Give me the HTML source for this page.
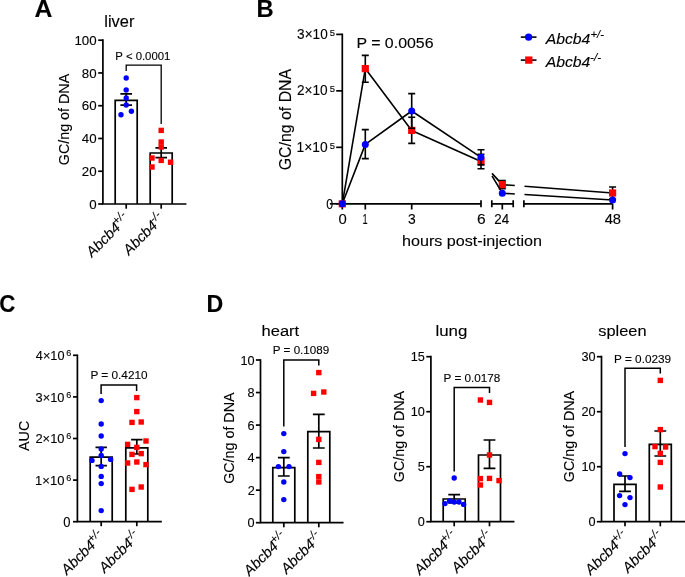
<!DOCTYPE html>
<html><head><meta charset="utf-8"><style>
html,body{margin:0;padding:0;background:#fff;}
body{width:685px;height:577px;overflow:hidden;}
svg{display:block;will-change:transform;}
text{font-family:"Liberation Sans",sans-serif;fill:#000;stroke:#000;stroke-width:0.12px;}
</style></head><body>
<svg width="685" height="577" viewBox="0 0 685 577" stroke="#000" stroke-linecap="butt">
<text transform="translate(34.48,16.9) scale(1.0323,1)" font-size="24.0" font-weight="bold">A</text>
<text transform="translate(104.29,27.4) scale(1.0513,1)" font-size="15.6">liver</text>
<path d="M102.9,40.2V204.0H185.6" stroke-width="1.7" fill="none" stroke-linecap="square"/>
<line x1="98.2" y1="204" x2="102.9" y2="204" stroke-width="1.7"/>
<line x1="98.2" y1="171.24" x2="102.9" y2="171.24" stroke-width="1.7"/>
<line x1="98.2" y1="138.48" x2="102.9" y2="138.48" stroke-width="1.7"/>
<line x1="98.2" y1="105.72" x2="102.9" y2="105.72" stroke-width="1.7"/>
<line x1="98.2" y1="72.96" x2="102.9" y2="72.96" stroke-width="1.7"/>
<line x1="98.2" y1="40.2" x2="102.9" y2="40.2" stroke-width="1.7"/>
<text transform="translate(74.42,44.9) scale(1.0000,1)" font-size="13.3">100</text>
<text transform="translate(81.84,77.66) scale(1.0000,1)" font-size="13.3">80</text>
<text transform="translate(81.84,110.42) scale(1.0000,1)" font-size="13.3">60</text>
<text transform="translate(81.84,143.18) scale(1.0000,1)" font-size="13.3">40</text>
<text transform="translate(81.84,175.94) scale(1.0000,1)" font-size="13.3">20</text>
<text transform="translate(89.22,208.7) scale(1.0000,1)" font-size="13.3">0</text>
<line x1="126.2" y1="204" x2="126.2" y2="208.7" stroke-width="1.7"/>
<line x1="161.2" y1="204" x2="161.2" y2="208.7" stroke-width="1.7"/>
<text transform="translate(69.2,165.22) rotate(-90) scale(1.0015,1)" font-size="14.3">GC/ng of DNA</text>
<path d="M115.2,204V100.4H137.2V204" stroke-width="1.7" fill="none"/>
<path d="M150.2,204V153H172.2V204" stroke-width="1.7" fill="none"/>
<path d="M126.2,93.8V105.2M120.4,93.8H132M120.4,105.2H132" stroke-width="1.7" fill="none"/>
<path d="M161.2,147.8V157.6M155.4,147.8H167M155.4,157.6H167" stroke-width="1.7" fill="none"/>
<circle cx="126.2" cy="78" r="2.7" fill="#0000ff" stroke="none"/>
<circle cx="126.2" cy="90" r="2.7" fill="#0000ff" stroke="none"/>
<circle cx="126.2" cy="98" r="2.7" fill="#0000ff" stroke="none"/>
<circle cx="126.2" cy="105" r="2.7" fill="#0000ff" stroke="none"/>
<circle cx="131.4" cy="111.2" r="2.7" fill="#0000ff" stroke="none"/>
<circle cx="121" cy="114.8" r="2.7" fill="#0000ff" stroke="none"/>
<rect x="158.5" y="127.7" width="5.4" height="5.4" fill="#ff0000" stroke="none"/>
<rect x="158.5" y="139.3" width="5.4" height="5.4" fill="#ff0000" stroke="none"/>
<rect x="158.5" y="144.3" width="5.4" height="5.4" fill="#ff0000" stroke="none"/>
<rect x="149.3" y="155.3" width="5.4" height="5.4" fill="#ff0000" stroke="none"/>
<rect x="158.5" y="157.7" width="5.4" height="5.4" fill="#ff0000" stroke="none"/>
<rect x="167.9" y="159.5" width="5.4" height="5.4" fill="#ff0000" stroke="none"/>
<rect x="149.3" y="164.3" width="5.4" height="5.4" fill="#ff0000" stroke="none"/>
<path d="M126.2,71V65.2H161.2V124" stroke-width="1.3" fill="none"/>
<text transform="translate(115.36,60.2) scale(1.0150,1)" font-size="11.2">P &lt; 0.0001</text>
<text transform="translate(256.5,16.9) scale(0.9904,1)" font-size="24.0" font-weight="bold">B</text>
<path d="M342.3,34.39V203.8" stroke-width="1.7" fill="none" stroke-linecap="square"/>
<line x1="336.2" y1="203.8" x2="342.3" y2="203.8" stroke-width="1.7"/>
<line x1="336.2" y1="147.33" x2="342.3" y2="147.33" stroke-width="1.7"/>
<line x1="336.2" y1="90.86" x2="342.3" y2="90.86" stroke-width="1.7"/>
<line x1="336.2" y1="34.39" x2="342.3" y2="34.39" stroke-width="1.7"/>
<text transform="translate(296.56,151.93) scale(0.9040,1)" font-size="15.3">1×10</text>
<text transform="translate(329.72,148.53) scale(1.0078,1)" font-size="9.4">5</text>
<text transform="translate(296.92,95.46) scale(0.8936,1)" font-size="15.3">2×10</text>
<text transform="translate(329.72,92.06) scale(1.0078,1)" font-size="9.4">5</text>
<text transform="translate(297.09,38.99) scale(0.8885,1)" font-size="15.3">3×10</text>
<text transform="translate(329.72,35.59) scale(1.0078,1)" font-size="9.4">5</text>
<text transform="translate(326.31,208.8) scale(0.8076,1)" font-size="15.3">0</text>
<line x1="329.9" y1="203.8" x2="342.3" y2="203.8" stroke-width="1.7"/>
<path d="M342.3,203.8H481.0M481.0,200.2V207.2M491.8,200.2V207.2M491.8,203.8H513.2M513.2,200.2V207.2M523.9,200.2V207.2M523.9,203.8H612.6" stroke-width="1.7" fill="none"/>
<line x1="342.3" y1="203.8" x2="342.3" y2="209.5" stroke-width="1.7"/>
<line x1="365.3" y1="203.8" x2="365.3" y2="209.5" stroke-width="1.7"/>
<line x1="411.7" y1="203.8" x2="411.7" y2="209.5" stroke-width="1.7"/>
<line x1="502.3" y1="203.8" x2="502.3" y2="209.5" stroke-width="1.7"/>
<line x1="612.6" y1="203.8" x2="612.6" y2="209.5" stroke-width="1.7"/>
<text transform="translate(338.41,223.6) scale(0.9655,1)" font-size="15.4">0</text>
<text transform="translate(362.61,223.6) scale(0.6006,1)" font-size="15.4">1</text>
<text transform="translate(408.08,223.6) scale(0.9023,1)" font-size="15.4">3</text>
<text transform="translate(477.12,223.6) scale(1.0109,1)" font-size="15.4">6</text>
<text transform="translate(494.33,223.6) scale(0.8679,1)" font-size="15.4">24</text>
<text transform="translate(604.67,223.6) scale(0.9569,1)" font-size="15.4">48</text>
<text transform="translate(401.97,245.7) scale(1.0764,1)" font-size="15.0">hours post-injection</text>
<text transform="translate(290.9,170.29) rotate(-90) scale(1.0182,1)" font-size="15.6">GC/ng of DNA</text>
<text transform="translate(356.39,48) scale(1.0988,1)" font-size="14.5">P = 0.0056</text>
<path d="M365.3,55.4V82.2M361.8,55.4H368.8M361.8,82.2H368.8" stroke-width="1.6" fill="none"/>
<path d="M411.7,117.2V143.4M408.2,117.2H415.2M408.2,143.4H415.2" stroke-width="1.6" fill="none"/>
<path d="M481,154.2V168.8M477.5,154.2H484.5M477.5,168.8H484.5" stroke-width="1.6" fill="none"/>
<path d="M502.3,180.6V188.6M498.8,180.6H505.8M498.8,188.6H505.8" stroke-width="1.6" fill="none"/>
<path d="M612.6,187V199M609.1,187H616.1M609.1,199H616.1" stroke-width="1.6" fill="none"/>
<path d="M342.3,203.8L365.3,68.6L411.7,130.4L481,161.5" stroke-width="1.6" fill="none" stroke-linejoin="round"/>
<path d="M492,173.4L502.3,184.6L514.8,185.55M524.5,186.3L612.6,193" stroke-width="1.6" fill="none" stroke-linejoin="round"/>
<rect x="338.7" y="200.2" width="7.2" height="7.2" fill="#ff0000" stroke="none"/>
<rect x="361.7" y="65" width="7.2" height="7.2" fill="#ff0000" stroke="none"/>
<rect x="408.1" y="126.8" width="7.2" height="7.2" fill="#ff0000" stroke="none"/>
<rect x="477.4" y="157.9" width="7.2" height="7.2" fill="#ff0000" stroke="none"/>
<rect x="498.7" y="181" width="7.2" height="7.2" fill="#ff0000" stroke="none"/>
<rect x="609" y="189.4" width="7.2" height="7.2" fill="#ff0000" stroke="none"/>
<path d="M365.3,129.6V158.6M361.8,129.6H368.8M361.8,158.6H368.8" stroke-width="1.6" fill="none"/>
<path d="M411.7,93.6V128.2M408.2,93.6H415.2M408.2,128.2H415.2" stroke-width="1.6" fill="none"/>
<path d="M481,149.7V164.9M477.5,149.7H484.5M477.5,164.9H484.5" stroke-width="1.6" fill="none"/>
<path d="M342.3,203.8L365.3,144.4L411.7,111L481,157.3" stroke-width="1.6" fill="none" stroke-linejoin="round"/>
<path d="M492,175.8L502.3,193.2L514.8,193.96M524.5,194.56L612.6,200" stroke-width="1.6" fill="none" stroke-linejoin="round"/>
<circle cx="342.3" cy="203.8" r="3.5" fill="#0000ff" stroke="none"/>
<circle cx="365.3" cy="144.4" r="3.5" fill="#0000ff" stroke="none"/>
<circle cx="411.7" cy="111" r="3.5" fill="#0000ff" stroke="none"/>
<circle cx="481" cy="157.3" r="3.5" fill="#0000ff" stroke="none"/>
<circle cx="502.3" cy="193.2" r="3.5" fill="#0000ff" stroke="none"/>
<circle cx="612.6" cy="200" r="3.5" fill="#0000ff" stroke="none"/>
<line x1="520.8" y1="37.1" x2="536.5" y2="37.1" stroke-width="1.6"/>
<circle cx="528.6" cy="37.1" r="3.7" fill="#0000ff" stroke="none"/>
<line x1="520.8" y1="60.1" x2="536.5" y2="60.1" stroke-width="1.6"/>
<rect x="525.15" y="56.45" width="7.3" height="7.3" fill="#ff0000" stroke="none"/>
<text transform="translate(545.65,43.7) scale(1.0521,1)" font-size="15.0" font-style="italic">Abcb4</text>
<text transform="translate(590.39,38.2) scale(1.1351,1)" font-size="10.0" font-style="italic">+/-</text>
<text transform="translate(545.65,66.7) scale(1.0521,1)" font-size="15.0" font-style="italic">Abcb4</text>
<text transform="translate(590.08,61.2) scale(1.1758,1)" font-size="10.0" font-style="italic">-/-</text>
<text transform="translate(-0.69,311.9) scale(0.9173,1)" font-size="24.3" font-weight="bold">C</text>
<path d="M77.4,355.3V521.7H161.0" stroke-width="1.7" fill="none" stroke-linecap="square"/>
<line x1="73" y1="521.7" x2="77.4" y2="521.7" stroke-width="1.7"/>
<line x1="73" y1="480.1" x2="77.4" y2="480.1" stroke-width="1.7"/>
<line x1="73" y1="438.5" x2="77.4" y2="438.5" stroke-width="1.7"/>
<line x1="73" y1="396.9" x2="77.4" y2="396.9" stroke-width="1.7"/>
<line x1="73" y1="355.3" x2="77.4" y2="355.3" stroke-width="1.7"/>
<text transform="translate(35.12,484.8) scale(1.0029,1)" font-size="13.0">1×10</text>
<text transform="translate(66.35,480.9) scale(1.0941,1)" font-size="8.3">6</text>
<text transform="translate(35.46,443.2) scale(0.9913,1)" font-size="13.0">2×10</text>
<text transform="translate(66.35,439.3) scale(1.0941,1)" font-size="8.3">6</text>
<text transform="translate(35.62,401.6) scale(0.9856,1)" font-size="13.0">3×10</text>
<text transform="translate(66.35,397.7) scale(1.0941,1)" font-size="8.3">6</text>
<text transform="translate(35.81,360) scale(0.9789,1)" font-size="13.0">4×10</text>
<text transform="translate(66.35,356.1) scale(1.0941,1)" font-size="8.3">6</text>
<text transform="translate(63.28,526.7) scale(0.9274,1)" font-size="14.0">0</text>
<line x1="101.2" y1="521.7" x2="101.2" y2="526.2" stroke-width="1.7"/>
<line x1="136.8" y1="521.7" x2="136.8" y2="526.2" stroke-width="1.7"/>
<text transform="translate(28.9,450.94) rotate(-90) scale(0.9225,1)" font-size="15.5">AUC</text>
<path d="M90.2,521.7V457.1H112.2V521.7" stroke-width="1.7" fill="none"/>
<path d="M125.8,521.7V447.9H147.8V521.7" stroke-width="1.7" fill="none"/>
<path d="M101.2,447.4V465.6M95.5,447.4H106.9M95.5,465.6H106.9" stroke-width="1.7" fill="none"/>
<path d="M136.8,439.6V454M131.1,439.6H142.5M131.1,454H142.5" stroke-width="1.7" fill="none"/>
<circle cx="101.2" cy="400.6" r="2.7" fill="#0000ff" stroke="none"/>
<circle cx="101.2" cy="424" r="2.7" fill="#0000ff" stroke="none"/>
<circle cx="101.2" cy="436" r="2.7" fill="#0000ff" stroke="none"/>
<circle cx="101.2" cy="449" r="2.7" fill="#0000ff" stroke="none"/>
<circle cx="101.2" cy="455.4" r="2.7" fill="#0000ff" stroke="none"/>
<circle cx="92" cy="460.4" r="2.7" fill="#0000ff" stroke="none"/>
<circle cx="110.6" cy="459.4" r="2.7" fill="#0000ff" stroke="none"/>
<circle cx="101.2" cy="466.4" r="2.7" fill="#0000ff" stroke="none"/>
<circle cx="101.2" cy="476.4" r="2.7" fill="#0000ff" stroke="none"/>
<circle cx="101.2" cy="483.6" r="2.7" fill="#0000ff" stroke="none"/>
<circle cx="101.2" cy="510.6" r="2.7" fill="#0000ff" stroke="none"/>
<rect x="134.1" y="394.9" width="5.4" height="5.4" fill="#ff0000" stroke="none"/>
<rect x="134.1" y="408.9" width="5.4" height="5.4" fill="#ff0000" stroke="none"/>
<rect x="129.3" y="419.7" width="5.4" height="5.4" fill="#ff0000" stroke="none"/>
<rect x="138.5" y="419.3" width="5.4" height="5.4" fill="#ff0000" stroke="none"/>
<rect x="143.3" y="438.3" width="5.4" height="5.4" fill="#ff0000" stroke="none"/>
<rect x="124.9" y="441.7" width="5.4" height="5.4" fill="#ff0000" stroke="none"/>
<rect x="134.1" y="444.7" width="5.4" height="5.4" fill="#ff0000" stroke="none"/>
<rect x="129.3" y="451.7" width="5.4" height="5.4" fill="#ff0000" stroke="none"/>
<rect x="138.5" y="450.9" width="5.4" height="5.4" fill="#ff0000" stroke="none"/>
<rect x="124.9" y="460.3" width="5.4" height="5.4" fill="#ff0000" stroke="none"/>
<rect x="134.1" y="459.3" width="5.4" height="5.4" fill="#ff0000" stroke="none"/>
<rect x="143.3" y="461.9" width="5.4" height="5.4" fill="#ff0000" stroke="none"/>
<rect x="129.3" y="486.7" width="5.4" height="5.4" fill="#ff0000" stroke="none"/>
<rect x="138.5" y="484.3" width="5.4" height="5.4" fill="#ff0000" stroke="none"/>
<path d="M101.1,394.1V385.1H136.6V391" stroke-width="1.5" fill="none"/>
<text transform="translate(90.43,379.4) scale(1.0451,1)" font-size="11.3">P = 0.4210</text>
<text transform="translate(206.44,311.6) scale(0.9541,1)" font-size="24.3" font-weight="bold">D</text>
<path d="M260.5,360V522.7H342.7" stroke-width="1.7" fill="none" stroke-linecap="square"/>
<line x1="255.9" y1="522.7" x2="260.5" y2="522.7" stroke-width="1.7"/>
<line x1="255.9" y1="490.16" x2="260.5" y2="490.16" stroke-width="1.7"/>
<line x1="255.9" y1="457.62" x2="260.5" y2="457.62" stroke-width="1.7"/>
<line x1="255.9" y1="425.08" x2="260.5" y2="425.08" stroke-width="1.7"/>
<line x1="255.9" y1="392.54" x2="260.5" y2="392.54" stroke-width="1.7"/>
<line x1="255.9" y1="360" x2="260.5" y2="360" stroke-width="1.7"/>
<text transform="translate(240.48,364.5) scale(1.0000,1)" font-size="12.7">10</text>
<text transform="translate(247.59,397.04) scale(1.0000,1)" font-size="12.7">8</text>
<text transform="translate(247.59,429.58) scale(1.0000,1)" font-size="12.7">6</text>
<text transform="translate(247.4,462.12) scale(1.0000,1)" font-size="12.7">4</text>
<text transform="translate(247.69,494.66) scale(1.0000,1)" font-size="12.7">2</text>
<text transform="translate(247.53,527.2) scale(1.0000,1)" font-size="12.7">0</text>
<line x1="283.8" y1="522.7" x2="283.8" y2="527.3" stroke-width="1.7"/>
<line x1="318.8" y1="522.7" x2="318.8" y2="527.3" stroke-width="1.7"/>
<path d="M272.8,522.7V467.6H294.8V522.7" stroke-width="1.7" fill="none"/>
<path d="M307.8,522.7V431.6H329.8V522.7" stroke-width="1.7" fill="none"/>
<path d="M283.8,457.6V476M277.9,457.6H289.7M277.9,476H289.7" stroke-width="1.7" fill="none"/>
<path d="M318.8,414.4V448M312.9,414.4H324.7M312.9,448H324.7" stroke-width="1.7" fill="none"/>
<circle cx="283.8" cy="433.6" r="2.7" fill="#0000ff" stroke="none"/>
<circle cx="283.8" cy="451.6" r="2.7" fill="#0000ff" stroke="none"/>
<circle cx="278.4" cy="466.6" r="2.7" fill="#0000ff" stroke="none"/>
<circle cx="289" cy="466.6" r="2.7" fill="#0000ff" stroke="none"/>
<circle cx="283.8" cy="482" r="2.7" fill="#0000ff" stroke="none"/>
<circle cx="283.8" cy="499.6" r="2.7" fill="#0000ff" stroke="none"/>
<rect x="316.1" y="369.9" width="5.4" height="5.4" fill="#ff0000" stroke="none"/>
<rect x="310.9" y="390.7" width="5.4" height="5.4" fill="#ff0000" stroke="none"/>
<rect x="321.1" y="389.3" width="5.4" height="5.4" fill="#ff0000" stroke="none"/>
<rect x="316.1" y="436.7" width="5.4" height="5.4" fill="#ff0000" stroke="none"/>
<rect x="316.1" y="459.7" width="5.4" height="5.4" fill="#ff0000" stroke="none"/>
<rect x="316.1" y="473.9" width="5.4" height="5.4" fill="#ff0000" stroke="none"/>
<rect x="316.1" y="479.3" width="5.4" height="5.4" fill="#ff0000" stroke="none"/>
<path d="M283.8,426.6V360.0H318.8V365.6" stroke-width="1.5" fill="none"/>
<text transform="translate(233.7,483.82) rotate(-90) scale(0.9350,1)" font-size="15.3">GC/ng of DNA</text>
<text transform="translate(261.54,335.7) scale(1.0873,1)" font-size="15.2">heart</text>
<text transform="translate(272.84,354.2) scale(1.0391,1)" font-size="11.2">P = 0.1089</text>
<text transform="translate(287.9,538.2) rotate(-45)" text-anchor="end" font-size="14.6" font-style="italic">Abcb4<tspan font-size="11.5" dx="-1" dy="-5.6">+/-</tspan></text>
<text transform="translate(322.9,538.2) rotate(-45)" text-anchor="end" font-size="14.6" font-style="italic">Abcb4<tspan font-size="11.5" dx="-1" dy="-5.6">-/-</tspan></text>
<path d="M430.9,356.7V521.7H513.6" stroke-width="1.7" fill="none" stroke-linecap="square"/>
<line x1="426.3" y1="521.7" x2="430.9" y2="521.7" stroke-width="1.7"/>
<line x1="426.3" y1="466.7" x2="430.9" y2="466.7" stroke-width="1.7"/>
<line x1="426.3" y1="411.7" x2="430.9" y2="411.7" stroke-width="1.7"/>
<line x1="426.3" y1="356.7" x2="430.9" y2="356.7" stroke-width="1.7"/>
<text transform="translate(410.71,361.2) scale(1.0000,1)" font-size="12.7">15</text>
<text transform="translate(410.68,416.2) scale(1.0000,1)" font-size="12.7">10</text>
<text transform="translate(417.76,471.2) scale(1.0000,1)" font-size="12.7">5</text>
<text transform="translate(417.73,526.2) scale(1.0000,1)" font-size="12.7">0</text>
<line x1="454.2" y1="521.7" x2="454.2" y2="526.3" stroke-width="1.7"/>
<line x1="489.5" y1="521.7" x2="489.5" y2="526.3" stroke-width="1.7"/>
<path d="M443.2,521.7V499H465.2V521.7" stroke-width="1.7" fill="none"/>
<path d="M478.5,521.7V455H500.5V521.7" stroke-width="1.7" fill="none"/>
<path d="M454.2,494.6V503M448.3,494.6H460.1M448.3,503H460.1" stroke-width="1.7" fill="none"/>
<path d="M489.5,440V468.4M483.6,440H495.4M483.6,468.4H495.4" stroke-width="1.7" fill="none"/>
<circle cx="454.2" cy="478" r="2.7" fill="#0000ff" stroke="none"/>
<circle cx="445" cy="503.6" r="2.7" fill="#0000ff" stroke="none"/>
<circle cx="449.6" cy="501" r="2.7" fill="#0000ff" stroke="none"/>
<circle cx="454.2" cy="502" r="2.7" fill="#0000ff" stroke="none"/>
<circle cx="459" cy="502" r="2.7" fill="#0000ff" stroke="none"/>
<circle cx="463.6" cy="504.4" r="2.7" fill="#0000ff" stroke="none"/>
<rect x="477.7" y="397.3" width="5.4" height="5.4" fill="#ff0000" stroke="none"/>
<rect x="486.8" y="399.7" width="5.4" height="5.4" fill="#ff0000" stroke="none"/>
<rect x="486.8" y="452.3" width="5.4" height="5.4" fill="#ff0000" stroke="none"/>
<rect x="477.7" y="475.9" width="5.4" height="5.4" fill="#ff0000" stroke="none"/>
<rect x="486.8" y="475.7" width="5.4" height="5.4" fill="#ff0000" stroke="none"/>
<rect x="496.3" y="477.9" width="5.4" height="5.4" fill="#ff0000" stroke="none"/>
<rect x="477.7" y="482.3" width="5.4" height="5.4" fill="#ff0000" stroke="none"/>
<path d="M454.2,471.6V387.4H489.5V393.0" stroke-width="1.5" fill="none"/>
<text transform="translate(403.7,482.22) rotate(-90) scale(0.9350,1)" font-size="15.3">GC/ng of DNA</text>
<text transform="translate(435.46,336.1) scale(1.1102,1)" font-size="15.2">lung</text>
<text transform="translate(443.53,381.9) scale(1.0461,1)" font-size="11.2">P = 0.0178</text>
<text transform="translate(458.3,537.2) rotate(-45)" text-anchor="end" font-size="14.6" font-style="italic">Abcb4<tspan font-size="11.5" dx="-1" dy="-5.6">+/-</tspan></text>
<text transform="translate(493.6,537.2) rotate(-45)" text-anchor="end" font-size="14.6" font-style="italic">Abcb4<tspan font-size="11.5" dx="-1" dy="-5.6">-/-</tspan></text>
<path d="M601.5,356.7V521.7H685" stroke-width="1.7" fill="none" stroke-linecap="square"/>
<line x1="596.9" y1="521.7" x2="601.5" y2="521.7" stroke-width="1.7"/>
<line x1="596.9" y1="466.7" x2="601.5" y2="466.7" stroke-width="1.7"/>
<line x1="596.9" y1="411.7" x2="601.5" y2="411.7" stroke-width="1.7"/>
<line x1="596.9" y1="356.7" x2="601.5" y2="356.7" stroke-width="1.7"/>
<text transform="translate(581.38,361.2) scale(1.0000,1)" font-size="12.7">30</text>
<text transform="translate(581.38,416.2) scale(1.0000,1)" font-size="12.7">20</text>
<text transform="translate(581.38,471.2) scale(1.0000,1)" font-size="12.7">10</text>
<text transform="translate(588.43,526.2) scale(1.0000,1)" font-size="12.7">0</text>
<line x1="625" y1="521.7" x2="625" y2="526.3" stroke-width="1.7"/>
<line x1="660.3" y1="521.7" x2="660.3" y2="526.3" stroke-width="1.7"/>
<path d="M614,521.7V484.4H636V521.7" stroke-width="1.7" fill="none"/>
<path d="M649.3,521.7V444.4H671.3V521.7" stroke-width="1.7" fill="none"/>
<path d="M625,476V491.4M619.1,476H630.9M619.1,491.4H630.9" stroke-width="1.7" fill="none"/>
<path d="M660.3,431V456M654.4,431H666.2M654.4,456H666.2" stroke-width="1.7" fill="none"/>
<circle cx="625" cy="453.6" r="2.7" fill="#0000ff" stroke="none"/>
<circle cx="619.6" cy="474" r="2.7" fill="#0000ff" stroke="none"/>
<circle cx="630" cy="477.6" r="2.7" fill="#0000ff" stroke="none"/>
<circle cx="619.6" cy="495.6" r="2.7" fill="#0000ff" stroke="none"/>
<circle cx="630" cy="497.6" r="2.7" fill="#0000ff" stroke="none"/>
<circle cx="625" cy="504.6" r="2.7" fill="#0000ff" stroke="none"/>
<rect x="657.6" y="377.7" width="5.4" height="5.4" fill="#ff0000" stroke="none"/>
<rect x="657.6" y="426.9" width="5.4" height="5.4" fill="#ff0000" stroke="none"/>
<rect x="652.3" y="443.9" width="5.4" height="5.4" fill="#ff0000" stroke="none"/>
<rect x="662.9" y="444.3" width="5.4" height="5.4" fill="#ff0000" stroke="none"/>
<rect x="657.6" y="450.7" width="5.4" height="5.4" fill="#ff0000" stroke="none"/>
<rect x="657.6" y="459.7" width="5.4" height="5.4" fill="#ff0000" stroke="none"/>
<rect x="657.6" y="484.3" width="5.4" height="5.4" fill="#ff0000" stroke="none"/>
<path d="M625.0,447.0V368.2H660.3V373.6" stroke-width="1.5" fill="none"/>
<text transform="translate(574.1,482.22) rotate(-90) scale(0.9350,1)" font-size="15.3">GC/ng of DNA</text>
<text transform="translate(598.35,335.75) scale(1.0771,1)" font-size="15.2">spleen</text>
<text transform="translate(614.03,362.6) scale(1.0523,1)" font-size="11.2">P = 0.0239</text>
<text transform="translate(629.1,537.2) rotate(-45)" text-anchor="end" font-size="14.6" font-style="italic">Abcb4<tspan font-size="11.5" dx="-1" dy="-5.6">+/-</tspan></text>
<text transform="translate(664.4,537.2) rotate(-45)" text-anchor="end" font-size="14.6" font-style="italic">Abcb4<tspan font-size="11.5" dx="-1" dy="-5.6">-/-</tspan></text>
<text transform="translate(130.3,219.5) rotate(-45)" text-anchor="end" font-size="14.6" font-style="italic">Abcb4<tspan font-size="11.5" dx="-1" dy="-5.6">+/-</tspan></text>
<text transform="translate(165.3,219.5) rotate(-45)" text-anchor="end" font-size="14.6" font-style="italic">Abcb4<tspan font-size="11.5" dx="-1" dy="-5.6">-/-</tspan></text>
<text transform="translate(105.3,537.2) rotate(-45)" text-anchor="end" font-size="14.6" font-style="italic">Abcb4<tspan font-size="11.5" dx="-1" dy="-5.6">+/-</tspan></text>
<text transform="translate(140.9,537.2) rotate(-45)" text-anchor="end" font-size="14.6" font-style="italic">Abcb4<tspan font-size="11.5" dx="-1" dy="-5.6">-/-</tspan></text>
</svg></body></html>
